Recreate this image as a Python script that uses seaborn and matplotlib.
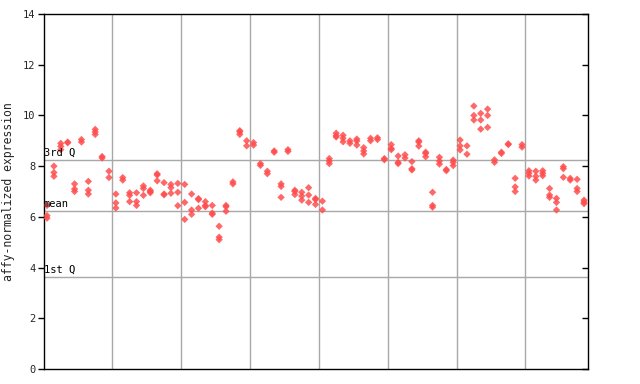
import matplotlib
matplotlib.use("Agg")
import matplotlib.pyplot as plt
import seaborn as sns
import pandas as pd

# expression values per sample (each inner list = replicate points), grouped by condition
group1 = [[6.45, 6.05, 5.95], [8.0, 7.75, 7.6], [8.9, 8.78, 8.65], [8.95, 8.92], [7.3, 7.1, 7.0],
          [9.05, 8.95], [7.4, 7.05, 6.9], [9.45, 9.35, 9.25], [8.38, 8.32], [7.8, 7.55]]
group2 = [[6.9, 6.55, 6.35], [7.55, 7.45], [6.95, 6.85, 6.6], [6.95, 6.6, 6.45], [7.22, 7.12, 6.85],
          [7.05, 7.0, 6.95], [7.7, 7.65, 7.42], [7.35, 6.9, 6.87], [7.28, 7.15, 6.93], [7.32, 6.97, 6.44]]
group3 = [[7.28, 6.57, 5.9], [6.9, 6.27, 6.1], [6.72, 6.68, 6.34], [6.6, 6.45, 6.4], [6.45, 6.15, 6.1],
          [5.63, 5.2, 5.1], [6.45, 6.4, 6.22], [7.38, 7.3], [9.4, 9.35, 9.25], [9.0, 8.8]]
group4 = [[8.93, 8.83], [8.1, 8.03], [7.8, 7.7], [8.6, 8.55], [7.3, 7.2, 6.77],
          [8.65, 8.58], [7.05, 7.0, 6.88], [6.97, 6.82, 6.66], [7.15, 6.86, 6.57], [6.73, 6.68, 6.49]]
group5 = [[6.62, 6.27], [8.3, 8.2, 8.1], [9.3, 9.2, 9.15], [9.22, 9.1, 8.96], [9.0, 8.9],
          [9.07, 8.99, 8.83], [8.73, 8.6, 8.48], [9.1, 9.0], [9.12, 9.05], [8.3, 8.25]]
group6 = [[8.85, 8.7, 8.65], [8.4, 8.15, 8.1], [8.45, 8.32], [8.18, 7.9, 7.85], [9.0, 8.95, 8.79],
          [8.55, 8.5, 8.37], [6.97, 6.45, 6.38], [8.35, 8.2, 8.08], [7.87, 7.82], [8.24, 8.15, 8.02]]
group7 = [[9.03, 8.8, 8.64], [8.8, 8.47], [10.37, 10.0, 9.82], [10.08, 9.82, 9.46], [10.25, 10.0, 9.53],
          [8.25, 8.15], [8.55, 8.5], [8.88, 8.85], [7.52, 7.18, 7.0], [8.85, 8.75]]
group8 = [[7.82, 7.72, 7.61], [7.8, 7.6, 7.45], [7.82, 7.72, 7.62], [7.12, 6.86, 6.77], [6.73, 6.57, 6.27],
          [7.98, 7.9, 7.56], [7.52, 7.45], [7.48, 7.12, 7.0], [6.66, 6.58, 6.52]]

groups = [group1, group2, group3, group4, group5, group6, group7, group8]

q3_value = 8.24
mean_value = 6.23
q1_value = 3.63
y_ticks = [0, 2, 4, 6, 8, 10, 12, 14]
y_label = "affy-normalized expression"

rows = []
idx = 0
boundaries = []
for g in groups:
    for sample in g:
        for v in sample:
            rows.append({"sample": idx, "value": v})
        idx += 1
    boundaries.append(idx - 0.5)
df = pd.DataFrame(rows)
n_samples = idx

sns.set_style("white")
plt.rcParams["font.family"] = ["DejaVu Sans Mono"]

fig = plt.figure(figsize=(6.4, 3.84), dpi=100)
ax = fig.add_axes([44 / 640, 15 / 384, 544 / 640, 355 / 384])

grid_color = "#a8a8a8"
for b in boundaries[:-1]:
    ax.axvline(b, color=grid_color, lw=1.0, zorder=1)
for val in (q3_value, mean_value, q1_value):
    ax.axhline(val, color=grid_color, lw=1.0, zorder=1)

sns.scatterplot(data=df, x="sample", y="value", marker="D", s=14,
                color="#ff4d4d", edgecolor="none", alpha=0.85, ax=ax, zorder=3, legend=False)

ax.set_xlim(-0.44, n_samples - 1 + 0.58)
ax.set_ylim(0, 14)
ax.set_yticks(y_ticks)
ax.set_yticklabels([str(t) for t in y_ticks], fontsize=7.5)
ax.set_xticks([])
ax.set_xlabel("")
ax.set_ylabel(y_label, fontsize=8.3, labelpad=6)
ax.tick_params(axis="y", direction="out", length=4, width=1, color="black", pad=2,
               right=False, left=True)
for side in ["left", "right", "top", "bottom"]:
    ax.spines[side].set_visible(True)
    ax.spines[side].set_color("black")
    ax.spines[side].set_linewidth(1.0)

# right-side ticks pointing inward
ax2 = ax.twinx()
ax2.set_ylim(0, 14)
ax2.set_yticks(y_ticks)
ax2.set_yticklabels([])
ax2.tick_params(axis="y", direction="in", length=4, width=1, color="black")
ax2.spines[:].set_visible(False)

for val, lab in ((q3_value, "3rd Q"), (mean_value, "mean"), (q1_value, "1st Q")):
    ax.text(-0.44, val + 0.08, lab, fontsize=7.5, ha="left", va="bottom", color="black", zorder=4)

fig.savefig("out.png", dpi=100)
